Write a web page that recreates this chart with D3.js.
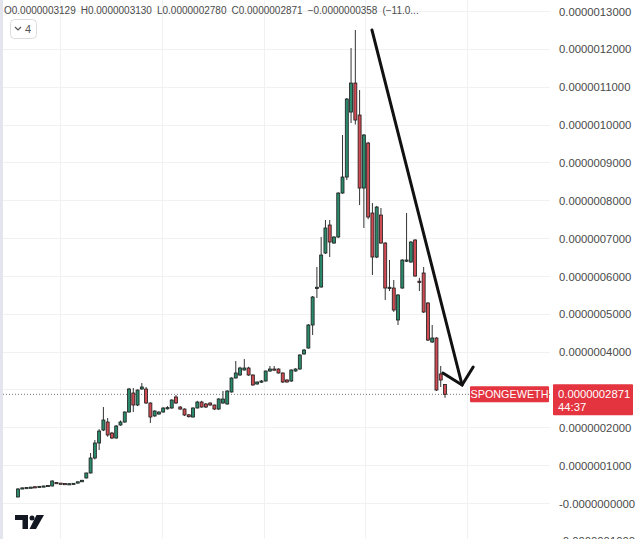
<!DOCTYPE html>
<html>
<head>
<meta charset="utf-8">
<script src="https://cdn.jsdelivr.net/npm/d3@7"></script>
<style>
  html, body { margin: 0; padding: 0; background: #fff; }
  svg { display: block; font-family: "Liberation Sans", Arial, sans-serif; }
</style>
</head>
<body>
<svg id="chart" width="640" height="539"></svg>
<script>
// ---- DATA (prices in units of 1e-10 WETH) ----
const opens = [
  159,396,405,415,430,430,445,455,449,540,
  525,515,505,510,525,560,661,793,1189,1585,
  1929,2140,1849,1717,2061,2140,2404,2906,2589,3012,
  3012,2642,2299,2351,2404,2490,2510,2801,2536,2483,
  2330,2272,2510,2668,2616,2642,2589,2483,2642,2616,
  2933,3303,3382,3514,3567,3382,3144,3197,3223,3487,
  3540,3540,3435,3250,3223,3487,3540,3937,4095,4703,
  5680,5707,6605,7345,6869,7028,8190,8613,10330,11096,
  10251,8322,9511,7662,6499,7609,6869,5680,5680,4835,
  5680,6394,6367,6949,5860,6077,5284,4254,4359,3408,3129
];
const highs = [
  396,405,415,425,435,445,455,470,600,545,
  530,520,515,525,565,610,800,1321,1664,1950,
  2536,2246,1880,2060,2180,2420,3040,3038,3000,3170,
  3065,2660,2450,2420,2530,2560,2740,2850,2560,2500,
  2340,2530,2700,2700,2640,2660,2600,2770,2959,2980,
  3320,3752,3600,3804,3600,3400,3210,3250,3500,3620,
  3620,3560,3450,3270,3530,3560,3930,4070,4730,5470,
  6235,7028,7477,7477,7050,8210,9723,10700,12021,12497,
  10911,9750,9540,7926,7850,7794,6890,6420,5892,5520,
  6440,7662,6920,6970,5950,6235,5310,4703,4380,3620,3130
];
const lows = [
  150,390,400,410,420,425,440,450,440,525,
  515,505,500,505,520,555,650,780,1150,1400,
  1900,1750,1690,1700,2040,2120,2390,2404,2560,2990,
  2620,2114,2280,2330,2390,2470,2490,2620,2460,2300,
  2260,2260,2500,2520,2510,2570,2460,2460,2620,2600,
  2920,3290,3360,3500,3360,3100,3130,3180,3210,3470,
  3500,3420,3170,3180,3200,3470,3520,3920,4080,4439,
  5416,5690,6580,6499,6850,7000,8170,8534,10040,10000,
  7873,7266,7500,6024,6470,6850,5363,5600,5050,4703,
  5660,6370,6350,5980,5600,5020,4280,4230,2960,3065,2780
];
const closes = [
  370,400,410,420,425,440,450,465,581,530,
  520,510,510,520,560,600,793,1189,1585,1902,
  2193,1797,1717,2034,2140,2404,3012,2589,2985,3065,
  2642,2272,2431,2404,2510,2520,2721,2642,2483,2325,
  2280,2510,2668,2536,2536,2589,2483,2748,2748,2959,
  3303,3435,3567,3567,3382,3118,3197,3223,3487,3540,
  3514,3435,3197,3197,3514,3540,3910,4042,4703,5443,
  5700,6552,7266,6896,7028,8190,8613,10674,11096,10119,
  8322,9723,7556,6499,7820,6869,5680,5700,5099,5496,
  6420,6420,6896,5997,5839,5046,4306,4359,2985,3250,2871
];
const tickValues = [13000,12000,11000,10000,9000,8000,7000,6000,5000,4000,3000,2000,1000,0,-1000];
const tickLabels = ["0.0000013000","0.0000012000","0.0000011000","0.0000010000","0.0000009000",
  "0.0000008000","0.0000007000","0.0000006000","0.0000005000","0.0000004000","0.0000003000",
  "0.0000002000","0.0000001000","-0.0000000000","-0.0000001000"];
const headerItems = ["O0.0000003129","H0.0000003130","L0.0000002780","C0.0000002871","\u22120.0000000358","(\u221211.0..."];
const lastPrice = 2871;
const symbolLabel = "SPONGEWETH";
const countdown = "44:37";
// drawn trend arrow, in (candle index, price) coordinates
const arrowShaft = [[82.9, 12497], [104.0, 3118]];
const arrowHead = [[99.5, 3435], [104.0, 3118], [106.6, 3593]];

// ---- LAYOUT ----
const W = 640, H = 539;
const plotRight = 550;
const svg = d3.select("#chart");
svg.append("rect").attr("width", W).attr("height", H).attr("fill", "#fff");
svg.append("rect").attr("x", 0).attr("y", 0).attr("width", 3).attr("height", H).attr("fill", "#e3e5ee");

const idx = d3.range(opens.length);
const step = 4.27;
const x = d3.scaleBand().domain(idx)
  .range([18 - step / 2, 18 - step / 2 + step * idx.length])
  .paddingInner(0.3).paddingOuter(0.15);
const xc = i => x(i) + x.bandwidth() / 2;
const xLin = d3.scaleLinear().domain([0, idx.length - 1]).range([xc(0), xc(idx.length - 1)]);
const y = d3.scaleLinear().domain([0, 13000]).range([503, 11]);

// grid
const grid = svg.append("g");
grid.selectAll("line.h").data(tickValues).join("line")
  .attr("x1", 3).attr("x2", plotRight)
  .attr("y1", d => Math.round(y(d)) + 0.5).attr("y2", d => Math.round(y(d)) + 0.5)
  .attr("stroke", "#f0f1f3").attr("stroke-width", 1);
grid.selectAll("line.v").data(d3.range(9.8, 110, 23.85)).join("line")
  .attr("x1", d => Math.round(xLin(d)) + 0.5).attr("x2", d => Math.round(xLin(d)) + 0.5)
  .attr("y1", 0).attr("y2", H)
  .attr("stroke", "#f0f1f3").attr("stroke-width", 1);

// right axis
const yAxis = d3.axisRight(y).tickValues(tickValues)
  .tickFormat((d, i) => tickLabels[i]).tickSize(0).tickPadding(0);
const ax = svg.append("g").attr("transform", `translate(559,0)`).call(yAxis);
ax.select(".domain").remove();
ax.selectAll("text").attr("fill", "#4a4a4a").attr("font-size", "11.3px")
  .attr("font-family", "Liberation Sans, Arial, sans-serif").attr("dy", "0.36em");

// last price dotted line
svg.append("line")
  .attr("x1", 3).attr("x2", plotRight)
  .attr("y1", y(lastPrice)).attr("y2", y(lastPrice))
  .attr("stroke", "#777").attr("stroke-width", 1).attr("stroke-dasharray", "1,2");

// candles
const candles = svg.append("g");
const up = "#2b8a6c", down = "#cf4a52";
candles.selectAll("line.wick").data(idx).join("line")
  .attr("x1", i => xc(i)).attr("x2", i => xc(i))
  .attr("y1", i => y(highs[i])).attr("y2", i => y(lows[i]))
  .attr("stroke", "#333").attr("stroke-width", 1);
candles.selectAll("rect.body").data(idx).join("rect")
  .attr("x", i => x(i)).attr("width", x.bandwidth())
  .attr("y", i => y(Math.max(opens[i], closes[i])))
  .attr("height", i => Math.max(1.2, Math.abs(y(opens[i]) - y(closes[i]))))
  .attr("fill", i => closes[i] >= opens[i] ? up : down)
  .attr("stroke", "#1c1c1c").attr("stroke-width", 0.8);

// arrow
const line = d3.line().x(d => xLin(d[0])).y(d => y(d[1]));
svg.append("path").attr("d", line(arrowShaft)).attr("fill", "none")
  .attr("stroke", "#111").attr("stroke-width", 3).attr("stroke-linecap", "round");
svg.append("path").attr("d", line(arrowHead)).attr("fill", "none")
  .attr("stroke", "#111").attr("stroke-width", 3).attr("stroke-linejoin", "miter").attr("stroke-linecap", "round");

// price labels
const ly = y(lastPrice);
svg.append("rect").attr("x", 470).attr("y", ly - 8).attr("width", 79).attr("height", 16)
  .attr("fill", "#e3343f").attr("rx", 1);
svg.append("text").attr("x", 509.5).attr("y", ly + 4).attr("text-anchor", "middle")
  .attr("fill", "#fff").attr("font-size", "10.8px").text(symbolLabel);
svg.append("rect").attr("x", 553).attr("y", ly - 10).attr("width", 80).attr("height", 31)
  .attr("fill", "#e3343f").attr("rx", 1);
svg.append("text").attr("x", 558).attr("y", ly + 3.5)
  .attr("fill", "#fff").attr("font-size", "11.3px").text(d3.format(".10f")(lastPrice * 1e-10));
svg.append("text").attr("x", 558).attr("y", ly + 17)
  .attr("fill", "#fff").attr("font-size", "11.3px").text(countdown);

// header: laid out sequentially, fitted to end near x=420
const header = svg.append("g").attr("fill", "#4a4a4a");
const hTexts = header.selectAll("text").data(headerItems).join("text")
  .attr("y", 14).text(d => d);
function layoutHeader(fs) {
  hTexts.attr("font-size", fs + "px");
  let cx = 4;
  const gap = fs * 0.5;
  hTexts.each(function () {
    d3.select(this).attr("x", cx);
    cx += this.getComputedTextLength() + gap;
  });
  return cx - gap;
}
let fs = 11.5;
while (layoutHeader(fs) > 420 && fs > 8) fs -= 0.1;

// collapse button
svg.append("rect").attr("x", 10.5).attr("y", 19.5).attr("width", 26).attr("height", 19)
  .attr("rx", 4).attr("fill", "#fff").attr("stroke", "#dcdcdc");
svg.append("path").attr("d", "M15,27 L18,30 L21,27").attr("fill", "none")
  .attr("stroke", "#555").attr("stroke-width", 1.2);
svg.append("text").attr("x", 25).attr("y", 33).attr("fill", "#555")
  .attr("font-size", "11px").text("4");

// TradingView logo
const logo = svg.append("g").attr("fill", "#131722");
logo.append("path").attr("d", "M15,515 H28 V529 H22.5 V520 H15 Z");
logo.append("circle").attr("cx", 32).attr("cy", 518).attr("r", 2.5);
logo.append("path").attr("d", "M36.5,515 H44 L36,529 H29.5 Z");
</script>
</body>
</html>
